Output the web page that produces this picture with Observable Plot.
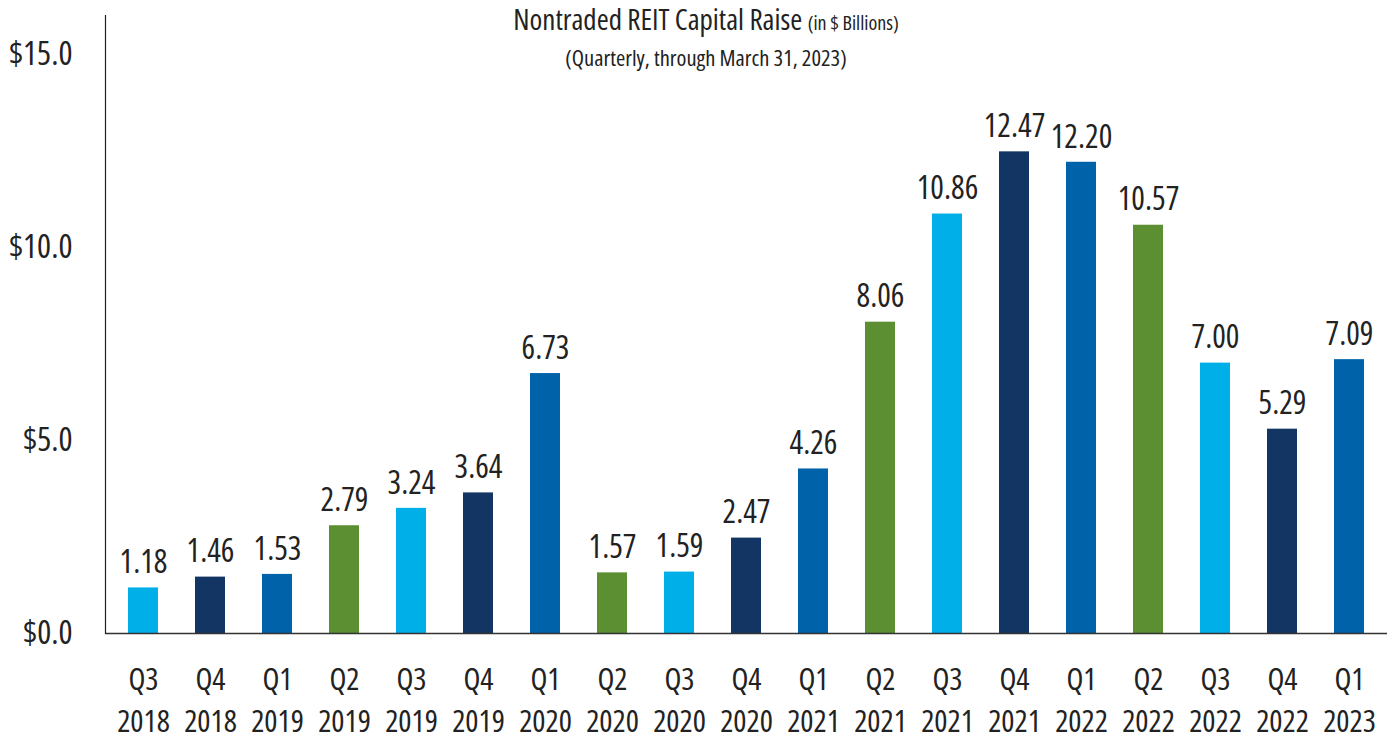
<!DOCTYPE html>
<html>
<head>
<meta charset="utf-8">
<script src="https://cdn.jsdelivr.net/npm/d3@7"></script>
<script src="https://cdn.jsdelivr.net/npm/@observablehq/plot@0.6"></script>
<style>
  html, body { margin: 0; padding: 0; background: #fff; }
  #wrap { position: relative; width: 1395px; height: 740px; font-family: "Open Sans", sans-serif; font-stretch: 75%; color: #222; }
  #chart svg { font-family: "Open Sans", sans-serif !important; font-stretch: 75%; }
  #chart svg text { font-stretch: 75%; }
  .line { position: absolute; left: 706px; transform: translateX(-50%); white-space: nowrap; text-align: center; }
  #title { top: 1px; font-size: 29px; line-height: 36px; }
  #title small { font-size: 20px; }
  #subtitle { top: 43px; font-size: 22.5px; line-height: 30px; }
</style>
</head>
<body>
<div id="wrap">
  <div id="chart"></div>
  <div id="title" class="line">Nontraded REIT Capital Raise <small>(in $ Billions)</small></div>
  <div id="subtitle" class="line">(Quarterly, through March 31, 2023)</div>
</div>
<script>
const quarters = ["Q3","Q4","Q1","Q2","Q3","Q4","Q1","Q2","Q3","Q4","Q1","Q2","Q3","Q4","Q1","Q2","Q3","Q4","Q1"];
const years = ["2018","2018","2019","2019","2019","2019","2020","2020","2020","2020","2021","2021","2021","2021","2022","2022","2022","2022","2023"];
const values = [1.18,1.46,1.53,2.79,3.24,3.64,6.73,1.57,1.59,2.47,4.26,8.06,10.86,12.47,12.20,10.57,7.00,5.29,7.09];
const yTicks = [0, 5, 10, 15];
const quarterColors = {Q1: "#0063AA", Q2: "#5B8F32", Q3: "#00AEE8", Q4: "#133564"};

const data = quarters.map((q, i) => ({label: q + "\n" + years[i], quarter: q, value: values[i]}));

const chart = Plot.plot({
  width: 1395,
  height: 740,
  marginTop: 15,
  marginBottom: 107,
  marginLeft: 105,
  marginRight: 8,
  style: {fontFamily: '"Open Sans", sans-serif', color: "#222", background: "#fff"},
  x: {domain: data.map(d => d.label), paddingInner: 0.556, paddingOuter: 0.278, label: null},
  y: {domain: [0, 16], label: null},
  color: {domain: Object.keys(quarterColors), range: Object.values(quarterColors)},
  marks: [
    Plot.barY(data, {x: "label", y: "value", fill: "quarter"}),
    Plot.text(data, {x: "label", y: "value", text: d => d.value.toFixed(2), dy: -25, fontSize: 32, fill: "#222"}),
    Plot.axisX({tickSize: 0, tickPadding: 26, fontSize: 31, lineHeight: 1.37, label: null, fill: "#222"}),
    Plot.axisY({ticks: yTicks, tickSize: 0, tickPadding: 33, fontSize: 33, tickFormat: d => "$" + d.toFixed(1), label: null, fill: "#222"}),
    Plot.ruleY([0], {stroke: "#333", strokeWidth: 1.5}),
    Plot.frame({anchor: "left", stroke: "#222", strokeWidth: 1.2})
  ]
});
document.getElementById("chart").appendChild(chart);
</script>
</body>
</html>
